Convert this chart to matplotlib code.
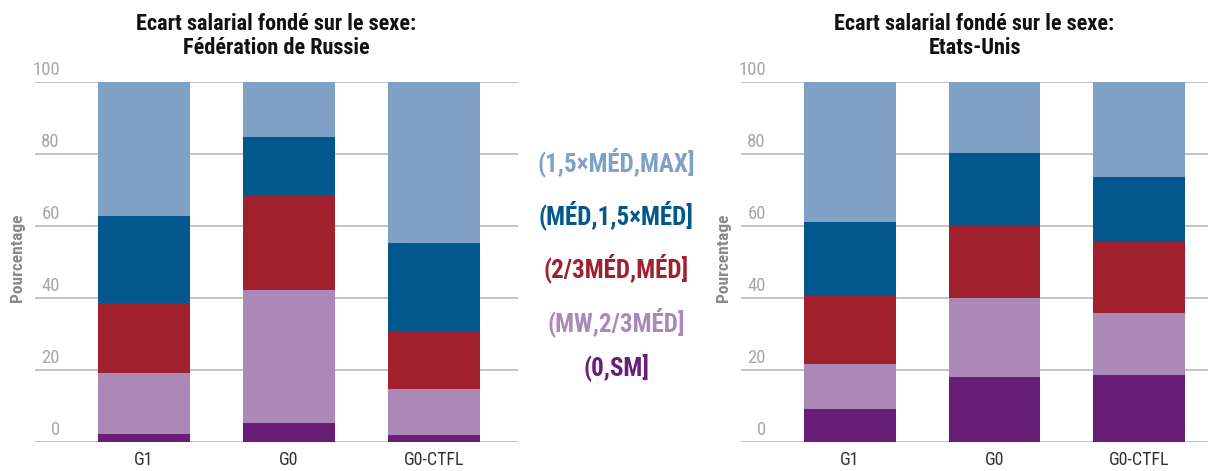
import matplotlib
matplotlib.use("Agg")
import matplotlib.pyplot as plt
from matplotlib import font_manager
from matplotlib.transforms import offset_copy
import numpy as np

# ---- data -------------------------------------------------------------
groups = ["G1", "G0", "G0-CTFL"]
bands = ["(0,SM]", "(MW,2/3MÉD]", "(2/3MÉD,MÉD]", "(MÉD,1,5×MÉD]", "(1,5×MÉD,MAX]"]
band_colors = ["#681E77", "#AC88B9", "#A1202E", "#02578D", "#7FA1C5"]

# shares (%) of each wage band, bottom to top, per group
russia_g1 = [2.1, 17.1, 19.2, 24.3, 37.3]
russia_g0 = [5.2, 36.9, 26.4, 16.1, 15.4]
russia_ctfl = [1.9, 12.7, 16.1, 24.5, 44.8]

usa_g1 = [9.1, 12.5, 18.9, 20.4, 39.1]
usa_g0 = [18.0, 21.9, 20.2, 20.1, 19.8]
usa_ctfl = [18.5, 17.2, 19.9, 17.9, 26.5]

y_ticks = [0, 20, 40, 60, 80, 100]
title_russia = "Ecart salarial fondé sur le sexe:\nFédération de Russie"
title_usa = "Ecart salarial fondé sur le sexe:\nEtats-Unis"
y_label = "Pourcentage"

# ---- fonts: prefer a narrow sans face ---------------------------------
installed = {f.name for f in font_manager.fontManager.ttflist}
narrow = None
for cand in ["Roboto Condensed", "Liberation Sans Narrow", "Noto Sans Condensed",
             "Open Sans Condensed", "DejaVu Sans Condensed"]:
    if cand in installed:
        narrow = cand
        break
if narrow is None:
    narrow = "DejaVu Sans"
FAM = [narrow, "DejaVu Sans"]
plt.rcParams["font.family"] = FAM

W, H = 1209, 471
fig = plt.figure(figsize=(W / 100, H / 100), dpi=100)
fig.patch.set_facecolor("white")


def px_axes(x0, x1, ytop, ybot):
    return fig.add_axes([x0 / W, 1 - ybot / H, (x1 - x0) / W, (ybot - ytop) / H])


def draw_panel(ax, series, title, xlim, label_x_px):
    x = np.arange(len(groups))
    data = np.array(series)
    bottom = np.zeros(len(groups))
    for k, col in enumerate(band_colors):
        ax.bar(x, data[:, k], bottom=bottom, width=0.635, color=col,
               edgecolor="none", zorder=3)
        bottom += data[:, k]
    ax.set_xlim(*xlim)
    ax.set_ylim(0, 100)
    ax.set_yticks(y_ticks)
    ax.set_yticklabels([])
    ax.tick_params(axis="y", length=0)
    ax.grid(axis="y", color="#BDBDBD", linewidth=1.3, zorder=0)
    ax.set_axisbelow(True)
    for s in ax.spines.values():
        s.set_visible(False)
    ax.set_xticks(x)
    ax.set_xticklabels(groups, fontsize=13, color="#333333")
    ax.tick_params(axis="x", length=0, pad=7)
    # value labels sit just above each gridline, inside the plot area
    trans = offset_copy(ax.get_yaxis_transform(), fig=fig, x=0, y=2, units="points")
    width_px = ax.get_position().width * W
    for t in y_ticks:
        ax.text(label_x_px / width_px, t, str(t), transform=trans, ha="right",
                va="bottom", fontsize=13.5, color="#A8A8A8")
    ax.set_title(title, fontsize=16, fontweight="bold", color="#111111",
                 linespacing=1.12, pad=20)


ax1 = px_axes(35, 518, 81.7, 441.7)
draw_panel(ax1, [russia_g1, russia_g0, russia_ctfl], title_russia,
           (-0.752, 2.579), 25)

ax2 = px_axes(741, 1208, 81.7, 441.7)
draw_panel(ax2, [usa_g1, usa_g0, usa_ctfl], title_usa, (-0.754, 2.478), 25)

for xp in (18, 723):
    fig.text(xp / W, 1 - 258 / H, y_label, rotation=90, ha="center", va="center",
             fontsize=12.5, fontweight="bold", color="#8A8A8A")

# band key between the panels, top band first
key_y = [368, 322, 268, 215, 162]
for lab, col, yp in zip(bands, band_colors, key_y):
    fig.text(616 / W, 1 - yp / H, lab, ha="center", va="center",
             fontsize=18, fontweight="bold", color=col)

fig.savefig("out.png", dpi=100, facecolor="white")
